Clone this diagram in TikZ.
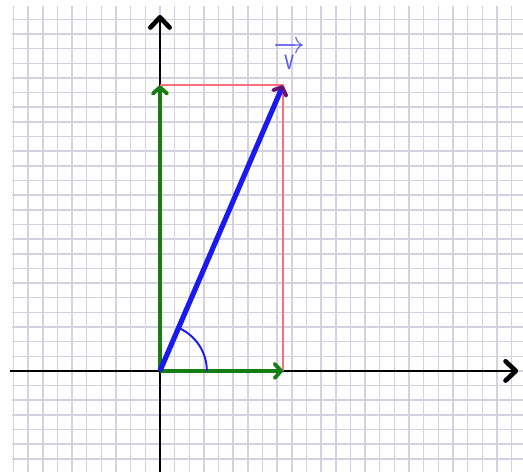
\documentclass[tikz,border=0pt]{standalone}
\usetikzlibrary{arrows.meta}

\definecolor{gridc}{RGB}{212,210,224}
\definecolor{compc}{RGB}{20,125,20}
\definecolor{vecc}{RGB}{25,25,240}
\definecolor{tipc}{RGB}{100,20,120}
\definecolor{projc}{RGB}{250,110,125}

\begin{document}
\begin{tikzpicture}[x=0.4cm, y=0.4cm,
        gridl/.style={gridc, line width=1.2pt},
        ax/.style={line width=2.2pt, -{Straight Barb[round, length=8pt, width=15pt, line width=3.6pt]}},
        comp/.style={compc, line width=3pt, -{Straight Barb[round, length=5pt, width=11pt, line width=3pt]}},
        proj/.style={projc, line width=1.3pt},
        vec/.style={vecc, line width=4pt, -{Straight Barb[round, length=5pt, width=11pt, line width=3pt, color=tipc]}},
        ang/.style={vecc, line width=1.5pt},
        lbl/.style={vecc!70, inner sep=0pt, font=\fontsize{26}{26}\selectfont\sffamily}]

      \useasboundingbox (-10.92,-6.89) rectangle (24.78,25.32);

      % grid
      \draw[gridl, step=1] (-10.1,-6.89) grid (24.78,24.9);

      % points
      \coordinate (O) at (0,0);
      \coordinate (V) at (8.4,19.5);
      \coordinate (Vx) at (8.4,0);
      \coordinate (Vy) at (0,19.5);
      \coordinate (xl) at (-10.24,0);
      \coordinate (xr) at (24.45,0);
      \coordinate (yb) at (0,-6.89);
      \coordinate (yt) at (0,24.3);

      % axes
      \draw[ax] (xl) -- (xr);
      \draw[ax] (yb) -- (yt);

      % projection lines
      \draw[proj] (Vy) -- (V) -- (Vx);

      % components
      \draw[comp] (O) -- (Vx);
      \draw[comp] (O) -- (Vy);

      % vector and angle
      \draw[vec] (O) -- (V);
      \draw[ang] (3.2,0) arc[start angle=0, end angle=66.7, radius=3.2];

      \node[lbl, anchor=base] (lv) at (8.87,20.55)
        {$\overrightarrow{\rule{0pt}{14pt}\hspace{5pt}\mbox{\scalebox{0.7}[1]{v}}\hspace{5.5pt}}$};
    \end{tikzpicture}
\end{document}
